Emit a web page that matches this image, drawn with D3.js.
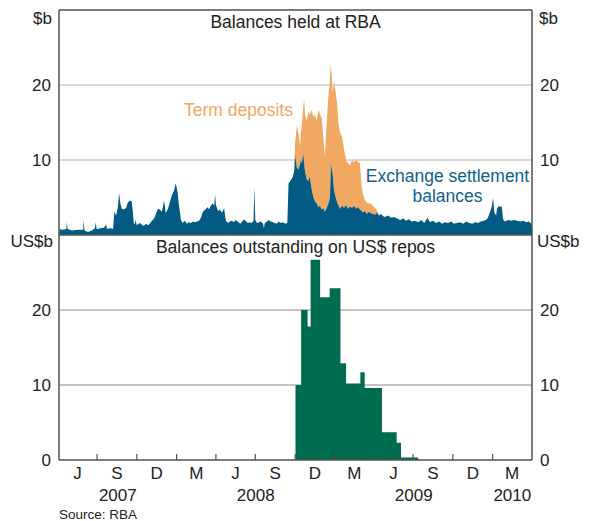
<!DOCTYPE html>
<html><head><meta charset="utf-8">
<script src="https://cdn.jsdelivr.net/npm/d3@7"></script>
<style>body{margin:0;background:#fff}svg{display:block}text{font-family:"Liberation Sans",Arial,sans-serif}</style>
</head><body><svg id="c" width="596" height="521"></svg>
<script>
// Exchange settlement balances ($b)
const esaSeries = [
["2007-04-05",0.8],["2007-04-12",0.7],["2007-04-21",0.8],["2007-04-22",1.7],["2007-04-24",0.8],["2007-05-04",0.6],["2007-05-18",0.7],["2007-05-30",0.7],["2007-05-31",2.0],["2007-06-02",0.6],
["2007-06-10",0.4],["2007-06-19",0.6],["2007-06-26",0.9],["2007-06-28",1.7],["2007-06-30",0.8],["2007-07-09",0.9],["2007-07-17",1.0],["2007-07-22",1.4],["2007-07-24",0.8],["2007-08-01",0.9],
["2007-08-07",0.8],["2007-08-10",3.1],["2007-08-14",2.6],["2007-08-18",3.6],["2007-08-21",5.6],["2007-08-24",4.2],["2007-08-27",3.5],["2007-09-01",3.4],["2007-09-06",3.6],["2007-09-10",4.3],
["2007-09-15",4.6],["2007-09-19",4.5],["2007-09-22",3.0],["2007-09-24",1.6],["2007-09-26",1.4],["2007-09-28",2.0],["2007-10-01",1.3],["2007-10-08",1.6],["2007-10-12",1.4],["2007-10-17",1.2],
["2007-10-22",1.5],["2007-10-27",1.3],["2007-11-01",1.6],["2007-11-05",1.9],["2007-11-10",2.2],["2007-11-14",2.8],["2007-11-19",3.5],["2007-11-23",3.4],["2007-11-28",3.1],["2007-12-03",4.6],
["2007-12-07",2.9],["2007-12-12",3.5],["2007-12-16",4.3],["2007-12-21",5.3],["2007-12-26",5.9],["2007-12-30",6.9],["2008-01-03",5.8],["2008-01-06",4.2],["2008-01-09",2.9],["2008-01-11",2.0],
["2008-01-15",1.6],["2008-01-20",1.9],["2008-01-25",1.5],["2008-01-29",1.7],["2008-02-03",1.6],["2008-02-08",1.8],["2008-02-13",1.7],["2008-02-17",1.8],["2008-02-22",1.9],["2008-02-27",2.4],
["2008-03-01",3.0],["2008-03-05",3.3],["2008-03-09",3.5],["2008-03-13",3.7],["2008-03-16",3.4],["2008-03-21",4.0],["2008-03-25",4.2],["2008-03-28",3.9],["2008-03-30",5.4],["2008-04-01",4.0],
["2008-04-06",3.2],["2008-04-10",3.4],["2008-04-15",3.0],["2008-04-20",3.6],["2008-04-22",2.6],["2008-04-24",1.9],["2008-04-29",1.6],["2008-05-03",1.8],["2008-05-08",1.9],["2008-05-12",1.7],
["2008-05-17",2.0],["2008-05-23",1.7],["2008-05-27",1.5],["2008-06-01",1.8],["2008-06-05",2.1],["2008-06-10",1.8],["2008-06-14",1.6],["2008-06-19",1.7],["2008-06-23",1.6],["2008-06-27",1.9],
["2008-06-29",6.4],["2008-07-01",2.0],["2008-07-05",1.6],["2008-07-10",1.7],["2008-07-14",1.8],["2008-07-19",1.5],["2008-07-21",0.9],["2008-07-23",1.6],["2008-07-28",1.8],["2008-08-01",2.0],
["2008-08-06",1.8],["2008-08-11",1.7],["2008-08-15",1.6],["2008-08-20",1.5],["2008-08-24",1.8],["2008-08-29",1.6],["2008-09-03",1.7],["2008-09-08",1.5],["2008-09-13",1.6],["2008-09-16",6.9],
["2008-09-20",7.2],["2008-09-26",7.8],["2008-09-29",8.6],["2008-10-01",10.7],["2008-10-05",9.0],["2008-10-09",8.7],["2008-10-13",9.6],["2008-10-14",10.0],["2008-10-17",9.6],["2008-10-20",10.9],
["2008-10-22",9.5],["2008-10-24",8.5],["2008-10-28",7.4],["2008-11-01",7.2],["2008-11-04",7.8],["2008-11-08",6.2],["2008-11-12",5.1],["2008-11-16",4.5],["2008-11-20",4.2],["2008-11-24",3.7],
["2008-11-27",3.9],["2008-12-02",3.4],["2008-12-05",3.6],["2008-12-09",3.1],["2008-12-13",3.6],["2008-12-17",4.2],["2008-12-20",4.8],["2008-12-21",5.5],["2008-12-23",9.6],["2008-12-27",8.0],
["2008-12-30",6.0],["2009-01-03",5.0],["2009-01-07",4.2],["2009-01-09",4.0],["2009-01-13",3.5],["2009-01-18",3.9],["2009-01-22",3.6],["2009-01-27",4.0],["2009-01-31",3.5],["2009-02-05",3.8],
["2009-02-10",3.6],["2009-02-14",3.9],["2009-02-19",3.5],["2009-02-23",3.7],["2009-02-28",3.4],["2009-03-04",3.2],["2009-03-07",3.0],["2009-03-11",3.2],["2009-03-16",2.8],["2009-03-21",3.1],
["2009-03-25",2.9],["2009-03-31",2.8],["2009-04-04",2.7],["2009-04-09",3.0],["2009-04-13",2.6],["2009-04-18",2.8],["2009-04-23",2.5],["2009-04-27",2.4],["2009-05-04",2.6],["2009-05-11",2.3],
["2009-05-18",2.4],["2009-05-25",2.2],["2009-06-01",2.0],["2009-06-08",2.2],["2009-06-15",1.9],["2009-06-21",2.1],["2009-06-28",1.8],["2009-07-05",1.9],["2009-07-13",1.7],["2009-07-20",2.0],
["2009-07-27",1.6],["2009-08-03",2.3],["2009-08-09",1.7],["2009-08-16",1.9],["2009-08-23",1.6],["2009-08-30",1.8],["2009-09-06",1.5],["2009-09-13",1.7],["2009-09-20",1.6],["2009-09-27",1.8],
["2009-10-03",1.5],["2009-10-10",1.6],["2009-10-17",1.7],["2009-10-25",1.5],["2009-11-01",1.8],["2009-11-08",1.6],["2009-11-15",1.5],["2009-11-22",1.7],["2009-11-28",1.6],["2009-12-05",1.8],
["2009-12-12",1.9],["2009-12-19",2.1],["2009-12-23",2.6],["2009-12-26",3.1],["2009-12-29",3.6],["2010-01-02",4.9],["2010-01-05",3.0],["2010-01-09",2.6],["2010-01-11",3.5],["2010-01-14",3.8],
["2010-01-22",3.8],["2010-01-23",3.3],["2010-01-25",2.1],["2010-01-29",1.8],["2010-02-06",2.0],["2010-02-13",1.9],["2010-02-20",2.0],["2010-02-27",1.9],["2010-03-06",1.8],["2010-03-13",1.9],
["2010-03-20",1.7],["2010-03-26",1.8],["2010-03-31",1.5],["2010-04-02",1.0]
];
// Term deposits ($b), stacked on top of exchange settlement balances
const termDepositSeries = [
["2008-09-29",0],["2008-10-01",1.5],["2008-10-05",5.6],["2008-10-09",4.8],["2008-10-13",2.2],["2008-10-14",3.5],["2008-10-17",5.3],["2008-10-20",6.3],["2008-10-22",8.5],["2008-10-24",7.5],
["2008-10-28",7.8],["2008-11-01",9.3],["2008-11-04",8.2],["2008-11-08",10.5],["2008-11-12",10.7],["2008-11-16",11.5],["2008-11-20",11.0],["2008-11-24",13.0],["2008-11-27",12.3],["2008-12-02",12.2],
["2008-12-05",9.6],["2008-12-09",7.4],["2008-12-13",11.3],["2008-12-17",14.3],["2008-12-20",15.4],["2008-12-21",16.0],["2008-12-23",13.1],["2008-12-27",11.0],["2008-12-30",14.5],["2009-01-03",14.0],
["2009-01-07",12.8],["2009-01-09",11.0],["2009-01-13",10.2],["2009-01-18",9.1],["2009-01-22",7.9],["2009-01-27",6.0],["2009-01-31",6.1],["2009-02-05",5.5],["2009-02-10",6.4],["2009-02-14",5.8],
["2009-02-19",6.5],["2009-02-23",6.1],["2009-02-28",6.2],["2009-03-04",3.3],["2009-03-07",2.5],["2009-03-11",1.5],["2009-03-16",1.5],["2009-03-21",1.1],["2009-03-25",1.3],["2009-03-31",1.0],
["2009-04-04",0.9],["2009-04-09",0.2],["2009-04-13",0]
];
// Balances outstanding on US$ repos (US$b), step changes
const repoSeries = [
["2008-10-02",10],["2008-10-15",20],["2008-10-30",17.8],["2008-11-06",26.7],["2008-11-28",21.7],["2008-12-20",22.9],
["2009-01-14",12.9],["2009-01-27",10.2],["2009-03-01",11.7],["2009-03-11",9.6],["2009-04-20",3.7],["2009-05-24",2.3],
["2009-06-03",0.35],["2009-07-13",0]
];
const topTicks = [10,20];
const bottomTicks = [0,10,20];
const quarterLabels = ["J","S","D","M","J","S","D","M","J","S","D","M"];
const yearLabels = ["2007","2008","2009","2010"];
const topTitle = "Balances held at RBA";
const bottomTitle = "Balances outstanding on US$ repos";

const parse = d3.timeParse("%Y-%m-%d");
const BLUE = "#035b84", ORANGE = "#f1a862", GREEN = "#006c4f", AXIS = "#505050";
const svg = d3.select("#c");
const L = 59, R = 532, T = 10, MID = 235, B = 460;
const x = d3.scaleTime().domain([parse("2007-04-04"), parse("2010-04-02")]).range([L, R]);
const yTop = d3.scaleLinear().domain([0,30]).range([MID, T]);
const yBot = d3.scaleLinear().domain([0,30]).range([B, MID]);

const esa = esaSeries.map(d => ({date: parse(d[0]), v: d[1]}));
const esaMap = new Map(esaSeries.map(d => [d[0], d[1]]));
const td = termDepositSeries.map(d => ({date: parse(d[0]), base: esaMap.get(d[0]), v: d[1]}));
const repo = repoSeries.map(d => ({date: parse(d[0]), v: d[1]}));

svg.append("defs").append("clipPath").attr("id","clip")
  .append("rect").attr("x",L).attr("y",T).attr("width",R-L).attr("height",B-T);

// gridlines
svg.append("g").selectAll("line").data(topTicks).join("line")
  .attr("x1",L).attr("x2",R).attr("y1",d=>yTop(d)).attr("y2",d=>yTop(d))
  .attr("stroke","#b3b3b3").attr("stroke-width",1);
svg.append("g").selectAll("line").data(bottomTicks.filter(d=>d>0)).join("line")
  .attr("x1",L).attr("x2",R).attr("y1",d=>yBot(d)).attr("y2",d=>yBot(d))
  .attr("stroke","#8a8a8a").attr("stroke-width",1);

const g = svg.append("g").attr("clip-path","url(#clip)");
g.append("path").datum(td)
  .attr("d", d3.area().x(d=>x(d.date)).y0(d=>yTop(d.base)).y1(d=>yTop(d.base+d.v)))
  .attr("fill", ORANGE);
g.append("path").datum(esa)
  .attr("d", d3.area().x(d=>x(d.date)).y0(yTop(0)).y1(d=>yTop(d.v)))
  .attr("fill", BLUE);
g.append("path").datum(repo)
  .attr("d", d3.area().curve(d3.curveStepAfter).x(d=>x(d.date)).y0(yBot(0)).y1(d=>yBot(d.v)))
  .attr("fill", GREEN);

// frame
const frame = svg.append("g").attr("stroke",AXIS).attr("stroke-width",1.5).attr("fill","none");
frame.append("line").attr("x1",L).attr("x2",R).attr("y1",T).attr("y2",T);
frame.append("line").attr("x1",L).attr("x2",L).attr("y1",T).attr("y2",B);
frame.append("line").attr("x1",R).attr("x2",R).attr("y1",T).attr("y2",B);
frame.append("line").attr("x1",L).attr("x2",R).attr("y1",MID).attr("y2",MID);
frame.append("line").attr("x1",L).attr("x2",R).attr("y1",B).attr("y2",B);

// quarter ticks
const qStarts = d3.timeMonth.every(3).range(parse("2007-04-01"), parse("2010-04-02"));
const qTicks = qStarts.filter(d => x(d) > L + 1 && x(d) < R - 1);
svg.append("g").selectAll("line").data(qTicks).join("line")
  .attr("x1",d=>x(d)).attr("x2",d=>x(d)).attr("y1",B).attr("y2",B-6)
  .attr("stroke",AXIS).attr("stroke-width",1.2);

const txt = (s, xx, yy, anchor, size, fill) => svg.append("text").text(s)
  .attr("x",xx).attr("y",yy).attr("text-anchor",anchor).attr("font-size",size).attr("fill",fill||"#222");

// quarter labels
qStarts.forEach((q,i) => {
  const mid = new Date((+q + +d3.timeMonth.offset(q,3))/2);
  txt(quarterLabels[i], x(mid), 479, "middle", 17);
});
// year labels
yearLabels.forEach(yr => {
  const a = Math.max(+parse(yr+"-01-01"), +x.domain()[0]);
  const b = Math.min(+parse((+yr+1)+"-01-01"), +x.domain()[1]);
  txt(yr, x(new Date((a+b)/2)), 501, "middle", 17);
});

// y labels
topTicks.forEach(v => { txt(v, 51, yTop(v)+6, "end", 17); txt(v, 540, yTop(v)+6, "start", 17); });
bottomTicks.forEach(v => { txt(v, 51, yBot(v)+6, "end", 17); txt(v, 540, yBot(v)+6, "start", 17); });
txt("$b", 52, 24, "end", 17); txt("$b", 539, 24, "start", 17);
txt("US$b", 53, 247, "end", 17); txt("US$b", 537, 247, "start", 17);

// panel titles
txt(topTitle, (L+R)/2, 28, "middle", 17.5);
txt(bottomTitle, (L+R)/2, 253, "middle", 17.5);

// series labels
txt("Term deposits", 184, 116, "start", 17.5, ORANGE);
txt("Exchange settlement", 447.5, 182, "middle", 17.5, "#11618a");
txt("balances", 447.5, 202, "middle", 17.5, "#11618a");

txt("Source: RBA", 59, 519, "start", 13.5);
</script></body></html>
